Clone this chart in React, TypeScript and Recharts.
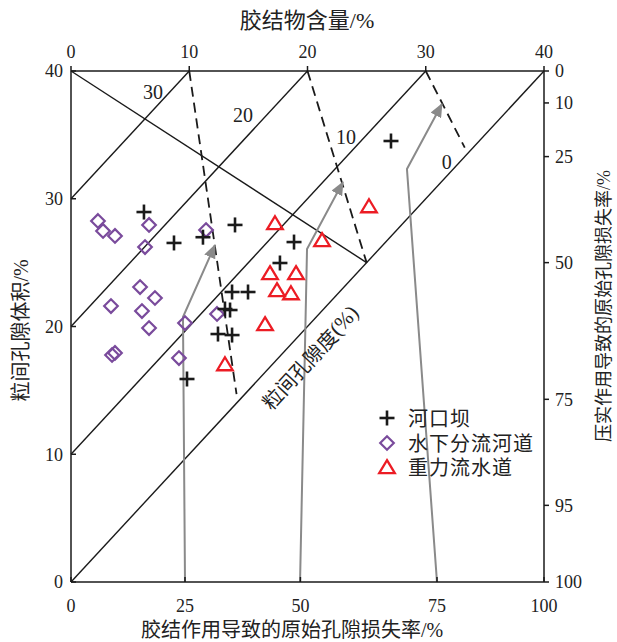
import React from "react";
import { ComposedChart, XAxis, YAxis, Scatter, Line, ReferenceLine, ReferenceDot, Legend } from "recharts";

const serif = '"Liberation Serif", "Times New Roman", serif';
const cjk = '"Noto Sans CJK SC", "Noto Sans", sans-serif';

// 河口坝 (cement %, intergranular volume %)
const mouthBar = [
  { x: 6.17, y: 28.96 }, { x: 8.71, y: 26.54 }, { x: 11.16, y: 26.99 }, { x: 13.87, y: 27.95 },
  { x: 13.62, y: 22.7 }, { x: 14.97, y: 22.7 }, { x: 13.02, y: 21.37 }, { x: 13.45, y: 21.29 },
  { x: 12.43, y: 19.41 }, { x: 13.62, y: 19.33 }, { x: 9.81, y: 15.89 }, { x: 18.86, y: 26.61 },
  { x: 17.67, y: 24.97 }, { x: 27.06, y: 34.52 },
];

// 水下分流河道
const subChannel = [
  { x: 2.28, y: 28.26 }, { x: 2.71, y: 27.48 }, { x: 3.72, y: 27.09 }, { x: 6.6, y: 27.95 },
  { x: 6.26, y: 26.22 }, { x: 5.84, y: 23.09 }, { x: 7.1, y: 22.23 }, { x: 3.38, y: 21.6 },
  { x: 6.0, y: 21.21 }, { x: 6.6, y: 19.88 }, { x: 3.47, y: 17.77 }, { x: 3.72, y: 17.93 },
  { x: 9.64, y: 20.27 }, { x: 9.13, y: 17.53 }, { x: 11.42, y: 27.55 }, { x: 12.35, y: 20.98 },
];

// 重力流水道
const gravityChannel = [
  { x: 17.25, y: 28.1 }, { x: 21.23, y: 26.77 }, { x: 16.83, y: 24.19 }, { x: 19.03, y: 24.19 },
  { x: 17.42, y: 22.86 }, { x: 18.6, y: 22.62 }, { x: 16.41, y: 20.2 }, { x: 13.02, y: 17.06 },
  { x: 25.2, y: 29.43 },
];

// intergranular porosity lines (IGV - cement = const)
const porosityValues = [0, 10, 20, 30];
const porosityLabelPos = [
  { x: 31.77, y: 32.9, label: "0" },
  { x: 23.26, y: 34.84, label: "10" },
  { x: 14.55, y: 36.56, label: "20" },
  { x: 6.93, y: 38.36, label: "30" },
];

// dashed guide lines and equal-loss line
const dashedLines = [
  [{ x: 10, y: 40 }, { x: 14.0, y: 14.7 }],
  [{ x: 20, y: 40 }, { x: 25, y: 25 }],
  [{ x: 30, y: 40 }, { x: 33.3, y: 34.0 }],
];
const equalLossLine = [{ x: 0, y: 40 }, { x: 25, y: 25 }];

// gray arrows of cementation loss
const arrow25 = [{ x: 9.64, y: 0 }, { x: 9.47, y: 20.74 }, { x: 12.18, y: 26.38 }];
const arrow50 = [{ x: 19.37, y: 0 }, { x: 19.96, y: 26.07 }, { x: 23.0, y: 31.31 }];
const arrow75 = [{ x: 30.95, y: 0 }, { x: 28.41, y: 32.33 }, { x: 31.37, y: 37.42 }];

const leftTicks = [0, 10, 20, 30, 40];
const topTicks = [0, 10, 20, 30, 40];
const bottomTickPos = [0, 9.64, 19.4, 30.95, 40];
const bottomTickLabels = ["0", "25", "50", "75", "100"];
const rightTickPos = [40, 37.5, 33.3, 25, 14.3, 6.0, 0];
const rightTickLabels = ["0", "10", "25", "50", "75", "95", "100"];

const legendItems = [
  { name: "河口坝", kind: "cross" },
  { name: "水下分流河道", kind: "diamond" },
  { name: "重力流水道", kind: "triangle" },
];

const PURPLE = "#7a4b9c";
const RED = "#ec1c24";
const GRAY = "#8a8a8a";
const INK = "#1a1a1a";

const Cross = (p: any) => (
  <g>
    <line x1={p.cx - 7.5} y1={p.cy} x2={p.cx + 7.5} y2={p.cy} stroke={INK} strokeWidth={2.6} />
    <line x1={p.cx} y1={p.cy - 7.5} x2={p.cx} y2={p.cy + 7.5} stroke={INK} strokeWidth={2.6} />
  </g>
);

const Diamond = (p: any) => (
  <polygon
    points={`${p.cx},${p.cy - 6.8} ${p.cx + 6.8},${p.cy} ${p.cx},${p.cy + 6.8} ${p.cx - 6.8},${p.cy}`}
    fill="none"
    stroke={PURPLE}
    strokeWidth={2.2}
  />
);

const Triangle = (p: any) => (
  <polygon
    points={`${p.cx},${p.cy - 6.8} ${p.cx + 7.8},${p.cy + 6.2} ${p.cx - 7.8},${p.cy + 6.2}`}
    fill="none"
    stroke={RED}
    strokeWidth={2.3}
  />
);

const LegendIcon = ({ kind }: { kind: string }) => (
  <svg width={20} height={20}>
    {kind === "cross" && <Cross cx={10} cy={10} />}
    {kind === "diamond" && <Diamond cx={10} cy={10} />}
    {kind === "triangle" && <Triangle cx={10} cy={10} />}
  </svg>
);

const fmt = (pos: number[], labels: string[]) => (v: number) => {
  const i = pos.indexOf(v);
  return i >= 0 ? labels[i] : "";
};

const tickStyle = { fontSize: 18, fill: "#222", fontFamily: serif };
const axisStyle = { stroke: INK, strokeWidth: 1.5 };

export default function App() {
  return (
    <div style={{ position: "absolute", left: 0, top: 0, width: 617, height: 642, background: "#fff" }}>
      <ComposedChart width={617} height={642} margin={{ top: 41, right: 33, bottom: 30, left: 31 }}>
        <defs>
          <marker id="grayArrow" viewBox="0 0 14 12" refX="13" refY="6" markerWidth="14" markerHeight="12"
            markerUnits="userSpaceOnUse" orient="auto">
            <path d="M0,0 L14,6 L0,12 z" fill={GRAY} />
          </marker>
        </defs>
        <XAxis xAxisId={0} dataKey="x" type="number" domain={[0, 40]} ticks={bottomTickPos} interval={0}
          tickFormatter={fmt(bottomTickPos, bottomTickLabels)} height={30} tickSize={-5} tickMargin={22}
          tick={tickStyle} axisLine={axisStyle} tickLine={axisStyle} allowDataOverflow />
        <XAxis xAxisId="top" orientation="top" dataKey="x" type="number" domain={[0, 40]} ticks={topTicks}
          interval={0} height={30} tickSize={5} tickMargin={8} tick={tickStyle} axisLine={axisStyle}
          tickLine={axisStyle} allowDataOverflow />
        <YAxis yAxisId={0} dataKey="y" type="number" domain={[0, 40]} ticks={leftTicks} interval={0}
          width={40} tickSize={-5} tickMargin={13} tick={tickStyle} axisLine={axisStyle} tickLine={axisStyle}
          allowDataOverflow />
        <YAxis yAxisId="right" orientation="right" type="number" domain={[0, 40]} ticks={rightTickPos}
          interval={0} tickFormatter={fmt(rightTickPos, rightTickLabels)} width={40} tickSize={5}
          tickMargin={6} tick={tickStyle} axisLine={axisStyle} tickLine={axisStyle} allowDataOverflow />

        {porosityValues.map((p) => (
          <ReferenceLine key={`por-${p}`} segment={[{ x: 0, y: p }, { x: 40 - p, y: 40 }]} stroke={INK}
            strokeWidth={1.4} ifOverflow="visible" />
        ))}
        <ReferenceLine segment={equalLossLine} stroke={INK} strokeWidth={1.4} ifOverflow="visible" />
        {dashedLines.map((seg, i) => (
          <ReferenceLine key={`dash-${i}`} segment={seg} stroke={INK} strokeWidth={1.8}
            strokeDasharray="10 6" ifOverflow="visible" />
        ))}

        {porosityLabelPos.map((d) => (
          <ReferenceDot key={`lbl-${d.label}`} x={d.x} y={d.y} ifOverflow="visible"
            shape={(p: any) => (
              <text x={p.cx} y={p.cy} textAnchor="middle" dominantBaseline="central" fontSize={20}
                fontFamily={serif} fill="#222">{d.label}</text>
            )} />
        ))}
        <ReferenceDot x={20.2} y={17.6} ifOverflow="visible"
          shape={(p: any) => (
            <text x={p.cx} y={p.cy} textAnchor="middle" dominantBaseline="central" fontSize={20}
              fontFamily={cjk} fill="#222" transform={`rotate(-47.2 ${p.cx} ${p.cy})`}>
              粒间孔隙度<tspan fontFamily={serif} fontSize={21}>(%)</tspan>
            </text>
          )} />

        {[arrow25, arrow50, arrow75].map((a, i) => (
          <Line key={`arr-${i}`} data={a} dataKey="y" type="linear" stroke={GRAY} strokeWidth={2}
            dot={false} activeDot={false} isAnimationActive={false} legendType="none"
            markerEnd="url(#grayArrow)" />
        ))}

        <Scatter name="水下分流河道" data={subChannel} shape={Diamond} isAnimationActive={false} />
        <Scatter name="河口坝" data={mouthBar} shape={Cross} isAnimationActive={false} />
        <Scatter name="重力流水道" data={gravityChannel} shape={Triangle} isAnimationActive={false} />

        <Legend layout="vertical" align="center" verticalAlign="middle"
          wrapperStyle={{ left: 377, top: 406, width: 180 }}
          content={() => (
            <div style={{ fontFamily: cjk, fontSize: 20, color: "#222" }}>
              {legendItems.map((it) => (
                <div key={it.name} style={{ display: "flex", alignItems: "center", height: 24.5 }}>
                  <LegendIcon kind={it.kind} />
                  <span style={{ marginLeft: 11, lineHeight: "20px", letterSpacing: 1 }}>{it.name}</span>
                </div>
              ))}
            </div>
          )} />
      </ComposedChart>

      <div style={{ position: "absolute", left: 157, top: 4, width: 300, textAlign: "center", fontFamily: cjk,
        fontSize: 22, lineHeight: "28px", color: "#222" }}>
        胶结物含量<span style={{ fontFamily: serif }}>/%</span>
      </div>
      <div style={{ position: "absolute", left: 92, top: 619, width: 400, textAlign: "center", fontFamily: cjk,
        fontSize: 20, lineHeight: "20px", color: "#222" }}>
        胶结作用导致的原始孔隙损失率<span style={{ fontFamily: serif }}>/%</span>
      </div>
      <div style={{ position: "absolute", left: -80, top: 318, width: 200, textAlign: "center", fontFamily: cjk,
        fontSize: 20, lineHeight: "24px", color: "#222", transform: "rotate(-90deg)" }}>
        粒间孔隙体积<span style={{ fontFamily: serif }}>/%</span>
      </div>
      <div style={{ position: "absolute", left: 453, top: 293, width: 300, textAlign: "center", fontFamily: cjk,
        fontSize: 18, lineHeight: "24px", color: "#222", transform: "rotate(-90deg)" }}>
        压实作用导致的原始孔隙损失率<span style={{ fontFamily: serif }}>/%</span>
      </div>
    </div>
  );
}
